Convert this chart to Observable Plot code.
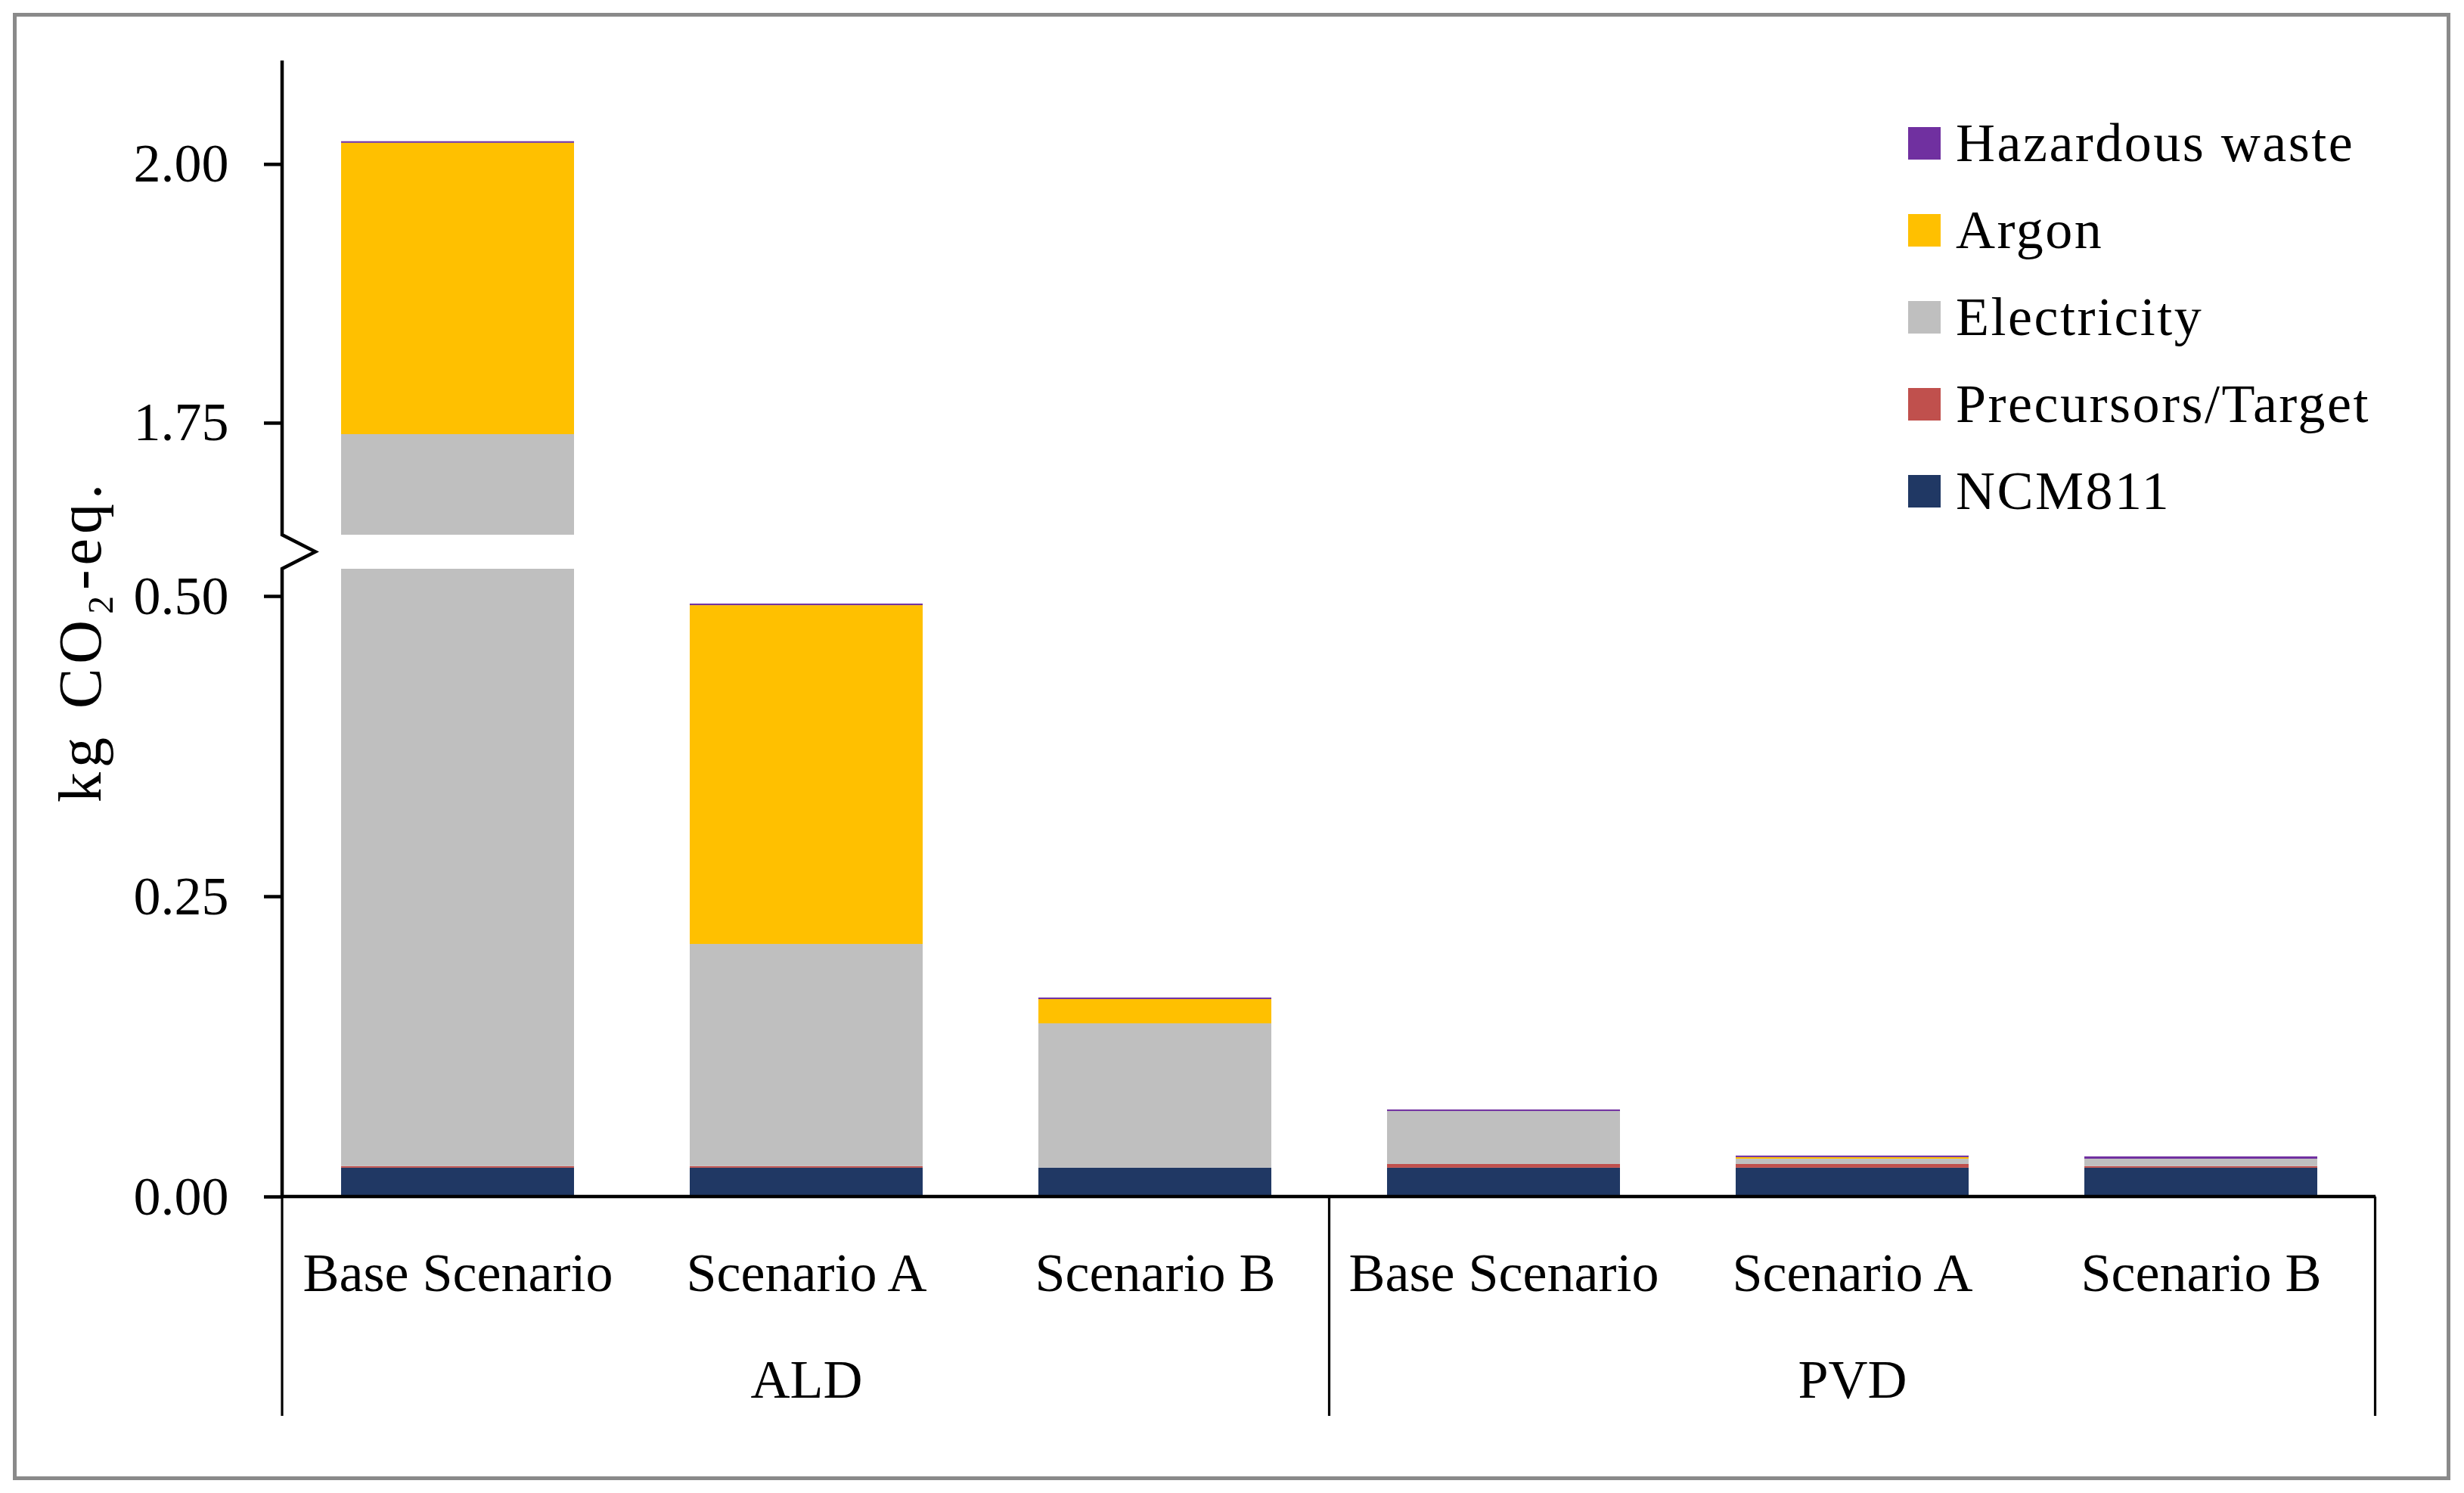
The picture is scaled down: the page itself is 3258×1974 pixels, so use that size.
<!DOCTYPE html>
<html>
<head>
<meta charset="utf-8">
<script src="https://cdn.jsdelivr.net/npm/d3@7"></script>
<script src="https://cdn.jsdelivr.net/npm/@observablehq/plot@0.6"></script>
<style>
  html, body { margin: 0; padding: 0; background: white; }
  #wrap { position: relative; width: 3258px; height: 1974px; overflow: hidden; }
  #chart { position: absolute; left: 0; top: 0; }
  #border { position: absolute; left: 17px; top: 17px; width: 3223px; height: 1940px; box-sizing: border-box; border: 5px solid #8a8a8a; pointer-events: none; }
  #legend { position: absolute; left: 2523px; top: 132px; font-family: 'Liberation Serif', serif; font-size: 72px; letter-spacing: 2.5px; color: black; }
  .row { display: flex; align-items: center; height: 115px; white-space: nowrap; }
  .sw { width: 43px; height: 43px; margin-right: 20px; flex: none; }
</style>
</head>
<body>
<div id="wrap">
  <div id="chart"></div>
  <div id="legend"></div>
  <div id="border"></div>
</div>
<script>
// ---- data ----
const groups = ["ALD", "PVD"];
const scenarios = ["Base Scenario", "Scenario A", "Scenario B"];
// stacking order, bottom to top
const components = ["NCM811", "Precursors/Target", "Electricity", "Argon", "Hazardous waste"];
const colors = ["#203864", "#C0504D", "#BFBFBF", "#FFC000", "#7030A0"];
// bars in order: ALD Base, ALD A, ALD B, PVD Base, PVD A, PVD B  (kg CO2-eq.)
const ncm811      = [0.024, 0.024, 0.024, 0.024, 0.024, 0.024];
const precursors  = [0.0013, 0.0013, 0.0, 0.0031, 0.0031, 0.0013];
const electricity = [1.7137, 0.185, 0.1202, 0.0441, 0.0044, 0.0062];
const argon       = [0.2815, 0.2821, 0.0202, 0.0, 0.0013, 0.0];
const hazardous   = [0.0015, 0.0013, 0.0013, 0.0013, 0.0013, 0.0019];
const yTicks = [0, 0.25, 0.5, 1.75, 2.0];
const yBreak = [0.5227, 1.6418];
const yMax = 2.1;
const yLabel = "kg CO\u2082-eq.";

const series = [ncm811, precursors, electricity, argon, hazardous];
const keys = [];
const rows = [];
groups.forEach((g, gi) => scenarios.forEach((s, si) => {
  const i = gi * scenarios.length + si;
  const key = g + "|" + s;
  keys.push(key);
  components.forEach((c, ci) => rows.push({key, group: g, scenario: s, component: c, value: series[ci][i]}));
}));

// ---- decorations: broken y-axis line, baseline, group separators ----
function decorations(index, scales, values, dimensions) {
  const {width, height, marginLeft, marginRight, marginTop, marginBottom} = dimensions;
  const x = scales.x, y = scales.y;
  const g = d3.create("svg:g");
  const y0 = y(0), yLo = y(yBreak[0]), yHi = y(yBreak[1]);
  const ax = marginLeft, right = width - marginRight;
  const zig = 44;
  g.append("path")
    .attr("d", `M${ax},${marginTop}V${yHi}L${ax + zig},${(yHi + yLo) / 2}L${ax},${yLo}V${y0}`)
    .attr("fill", "none").attr("stroke", "black").attr("stroke-width", 4.5).attr("stroke-linejoin", "miter");
  g.append("line").attr("x1", ax - 2).attr("x2", right).attr("y1", y0).attr("y2", y0)
    .attr("stroke", "black").attr("stroke-width", 4.5);
  const step = x.step ? x.step() : (right - ax) / keys.length;
  const bw = x.bandwidth ? x.bandwidth() : 0;
  const seps = [ax];
  groups.forEach((gname) => {
    const lastKey = gname + "|" + scenarios[scenarios.length - 1];
    seps.push(x(lastKey) + bw + (step - bw) / 2);
  });
  seps.forEach(sx => g.append("line").attr("x1", sx).attr("x2", sx).attr("y1", y0).attr("y2", y0 + 290)
    .attr("stroke", "black").attr("stroke-width", 3.2));
  return g.node();
}

const chart = Plot.plot({
  width: 3258,
  height: 1974,
  marginLeft: 373,
  marginRight: 117,
  marginTop: 80,
  marginBottom: 392,
  style: {fontFamily: "'Liberation Serif', serif", fontSize: "72px", color: "black", background: "transparent"},
  x: {domain: keys, paddingInner: 0.332, paddingOuter: 0.166, axis: null},
  y: {type: "linear", domain: [0, yBreak[0], yBreak[1], yMax], range: [1582, 752, 707, 80], axis: null},
  color: {domain: components, range: colors},
  marks: [
    Plot.barY(rows, {x: "key", y: "value", fill: "component", order: components}),
    Plot.rect([yBreak], {y1: d => d[0], y2: d => d[1], fill: "white"}),
    Plot.axisY({ticks: yTicks, tickFormat: d3.format(".2f"), tickSize: 24, tickPadding: 47, strokeWidth: 4.5, label: null}),
    Plot.axisX({tickSize: 0, tickPadding: 73, tickFormat: k => k.split("|")[1], label: null}),
    Plot.text(groups, {x: gname => gname + "|" + scenarios[1], frameAnchor: "bottom", lineAnchor: "middle", dy: 242, text: d => d}),
    Plot.text([yLabel], {frameAnchor: "left", textAnchor: "middle", lineAnchor: "middle", dx: -266, dy: 16, rotate: -90, fontSize: 80, text: d => d}),
    decorations
  ]
});
// widen the y-axis title like the reference
d3.select(chart).selectAll("text").filter(function () { return this.textContent === yLabel; })
  .style("letter-spacing", "6px").style("word-spacing", "6px");
document.getElementById("chart").appendChild(chart);

// ---- legend (top to bottom as in the reference) ----
const legend = d3.select("#legend");
[...components].reverse().forEach(c => {
  const row = legend.append("div").attr("class", "row");
  row.append("div").attr("class", "sw").style("background", colors[components.indexOf(c)]);
  row.append("span").text(c);
});
</script>
</body>
</html>
